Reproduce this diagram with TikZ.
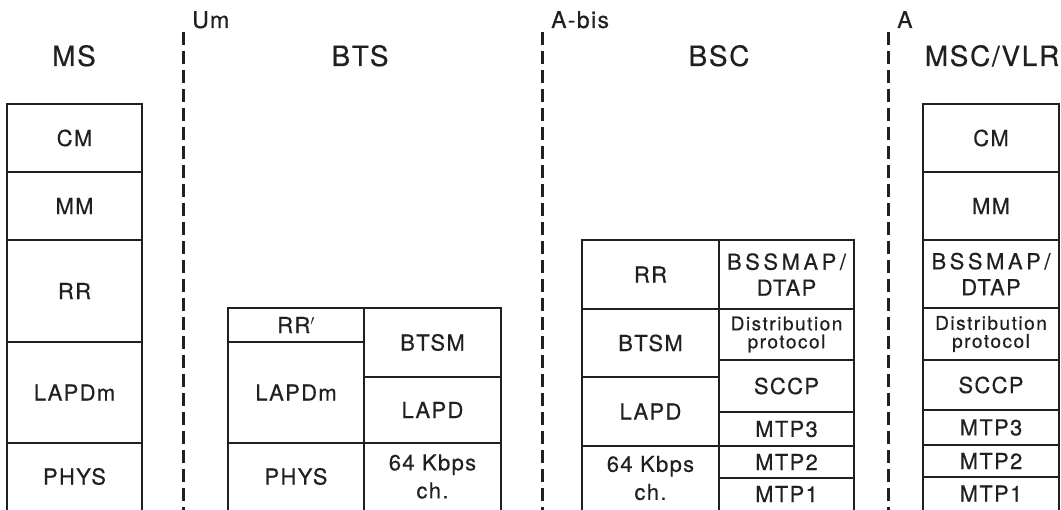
\documentclass[tikz,border=0pt]{standalone}
\usepackage{fontspec}
\setmainfont{TeX Gyre Heros}[LetterSpace=6, FakeBold=0.45]
\definecolor{ink}{HTML}{231F20}

% a closed layer cell: [style] name, x1, y1, x2, y2, text
\newcommand\layer[7][]{%
  \draw[frame] (#3,#4) rectangle (#5,#6);
  \node[txt,#1] (#2) at ({(#3+#5)/2},{(#4+#6)/2}) {#7};}
% a bottom layer cell, open towards the lower edge
\newcommand\baselayer[6][]{%
  \draw[frame] (#3,514) |- (#5,#4) -- (#5,514);
  \node[txt,#1] (#2) at ({(#3+#5)/2},{(#4+510)/2}) {#6};}
% wider tracking for the long upper-case label
\newcommand\wide[1]{{\addfontfeature{LetterSpace=16}#1}}

\begin{document}
\begin{tikzpicture}[x=1pt,y=-1pt,
  frame/.style={draw=ink, line width=2pt},
  txt/.style={text=ink, inner sep=0pt, align=center,
    font=\fontsize{22}{26}\selectfont},
  smalltxt/.style={font=\fontsize{19}{18}\selectfont\addfontfeature{LetterSpace=8}},
  chantxt/.style={font=\fontsize{22}{28}\selectfont},
  head/.style={text=ink, inner sep=0pt, anchor=base,
    font=\fontsize{28}{30}\selectfont},
  iface/.style={text=ink, inner sep=0pt, anchor=base west,
    font=\fontsize{23}{26}\selectfont},
  boundary/.style={draw=ink, line width=3pt, dash pattern=on 13pt off 6pt}]
\useasboundingbox (0,0) rectangle (1061,510);

% interface boundaries
\coordinate (umtop) at (183,32);   \coordinate (umbot) at (183,514);
\coordinate (abistop) at (542,32); \coordinate (abisbot) at (542,514);
\coordinate (atop) at (888,32);    \coordinate (abot) at (888,514);
\draw[boundary] (umtop) -- (umbot);
\draw[boundary] (abistop) -- (abisbot);
\draw[boundary] (atop) -- (abot);
\node[iface] (um) at (192,28) {Um};
\node[iface] (abis) at (551,28) {A-bis};
\node[iface] (a) at (897,28) {A};

% entity names
\node[head] (ms) at (74,66) {MS};
\node[head] (bts) at (360,66) {BTS};
\node[head] (bsc) at (719,66) {BSC};
\node[head] (msc) at (992,66) {MSC/VLR};

% MS stack
\layer{mscm}{7}{104}{142}{172}{CM}
\layer{msmm}{7}{172}{142}{240}{MM}
\layer{msrr}{7}{240}{142}{342}{RR}
\layer{mslapdm}{7}{342}{142}{443}{LAPDm}
\baselayer{msphys}{7}{443}{142}{PHYS}

% BTS stack
\layer{btsrr}{228}{308}{364}{342}{RR$'$}
\layer{btslapdm}{228}{342}{364}{443}{LAPDm}
\baselayer{btsphys}{228}{443}{364}{PHYS}
\layer{btsbtsm}{364}{308}{501}{377}{BTSM}
\layer{btslapd}{364}{377}{501}{443}{LAPD}
\baselayer[chantxt]{btsch}{364}{443}{501}{64 Kbps\\ch.}

% BSC stack
\layer{bscrr}{582}{240}{719}{309}{RR}
\layer{bscbtsm}{582}{309}{719}{377}{BTSM}
\layer{bsclapd}{582}{377}{719}{446}{LAPD}
\baselayer[chantxt]{bscch}{582}{446}{719}{64 Kbps\\ch.}
\layer{bscbssmap}{719}{240}{854}{309}{\wide{BSSMAP/}\\DTAP}
\layer[smalltxt]{bscdist}{719}{309}{854}{360}{Distribution\\protocol}
\layer{bscsccp}{719}{360}{854}{412}{SCCP}
\layer{bscmtpc}{719}{412}{854}{446}{MTP3}
\layer{bscmtpb}{719}{446}{854}{478}{MTP2}
\baselayer{bscmtpa}{719}{478}{854}{MTP1}

% MSC/VLR stack
\layer{msccm}{923}{104}{1059}{172}{CM}
\layer{mscmm}{923}{172}{1059}{240}{MM}
\layer{mscbssmap}{923}{240}{1059}{308}{\wide{BSSMAP/}\\DTAP}
\layer[smalltxt]{mscdist}{923}{308}{1059}{360}{Distribution\\protocol}
\layer{mscsccp}{923}{360}{1059}{410}{SCCP}
\layer{mscmtpc}{923}{410}{1059}{445}{MTP3}
\layer{mscmtpb}{923}{445}{1059}{477}{MTP2}
\baselayer{mscmtpa}{923}{477}{1059}{MTP1}
\end{tikzpicture}
\end{document}
